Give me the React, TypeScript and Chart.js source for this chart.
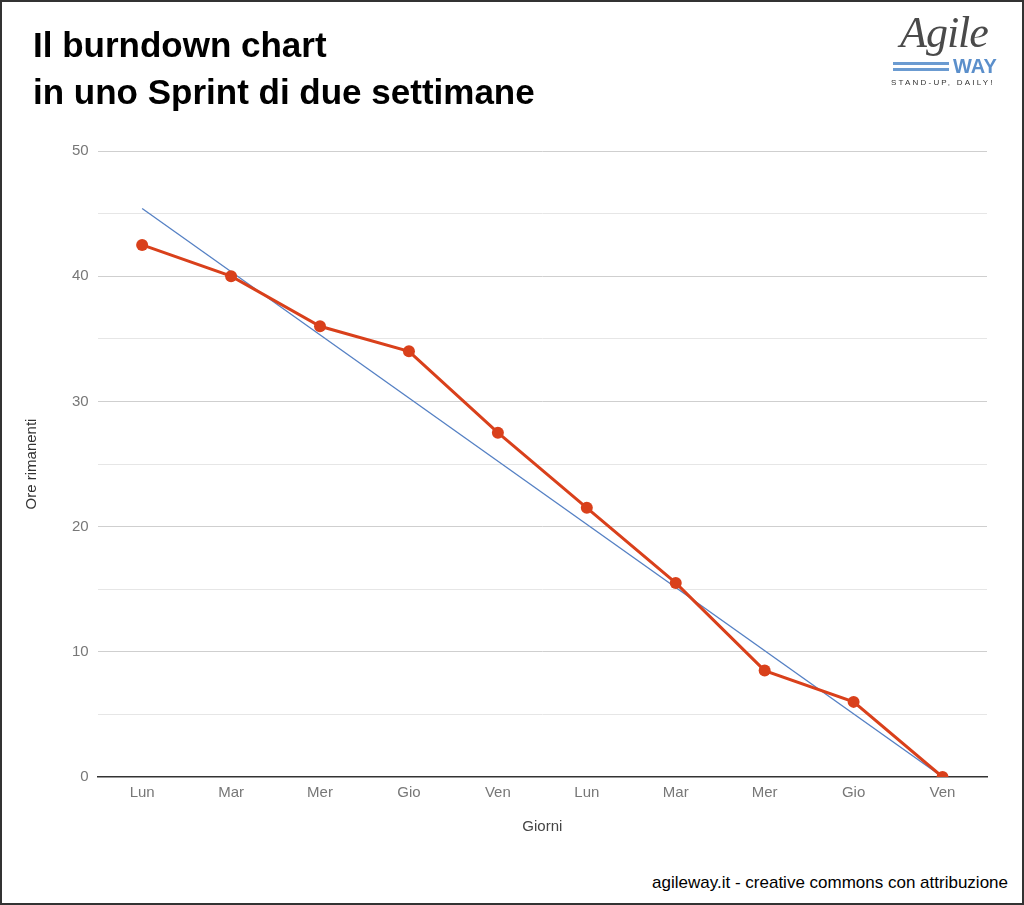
import React, { useEffect, useRef } from "react";
import { Chart, registerables } from "chart.js";

Chart.register(...registerables);

const days = ["Lun", "Mar", "Mer", "Gio", "Ven", "Lun", "Mar", "Mer", "Gio", "Ven"];
const remainingHours = [42.5, 40, 36, 34, 27.5, 21.5, 15.5, 8.5, 6, 0];
const idealHours: (number | null)[] = [45.4, null, null, null, null, null, null, null, null, 0];
const yMin = 0;
const yMax = 50;
const yStep = 5;

const FONT = "'Liberation Sans', Arial, sans-serif";

export default function App() {
  const canvasRef = useRef<HTMLCanvasElement | null>(null);

  useEffect(() => {
    document.body.style.margin = "0";
    const ctx = canvasRef.current;
    if (!ctx) return;
    const chart = new Chart(ctx, {
      type: "line",
      data: {
        labels: days,
        datasets: [
          {
            label: "Ideale",
            data: idealHours,
            borderColor: "#5580c4",
            borderWidth: 1.3,
            pointRadius: 0,
            spanGaps: true,
            tension: 0,
            order: 2,
          },
          {
            label: "Ore rimanenti",
            data: remainingHours,
            borderColor: "#d9401b",
            backgroundColor: "#d9401b",
            borderWidth: 3,
            pointRadius: 6,
            pointBorderWidth: 0,
            tension: 0,
            order: 1,
            clip: { left: 10, top: 10, right: 10, bottom: 0 },
          },
        ],
      },
      options: {
        animation: false,
        responsive: true,
        maintainAspectRatio: false,
        events: [],
        layout: { padding: { top: 151, right: 37, bottom: 4, left: 23 } },
        plugins: {
          legend: { display: false },
          tooltip: { enabled: false },
        },
        scales: {
          x: {
            offset: true,
            grid: { display: false, drawTicks: false },
            border: { display: true, color: "#333333", width: 1.5 },
            ticks: {
              color: "#777777",
              padding: 7,
              font: { family: FONT, size: 15 },
              autoSkip: false,
              maxRotation: 0,
            },
            title: {
              display: true,
              text: "Giorni",
              color: "#444444",
              font: { family: FONT, size: 15 },
              padding: { top: 9, bottom: 10 },
            },
          },
          y: {
            min: yMin,
            max: yMax,
            border: { display: false },
            grid: {
              drawTicks: false,
              color: (c: any) => {
                const v = c.tick ? c.tick.value : 0;
                if (v === 0) return "rgba(0,0,0,0)";
                return v % 10 === 0 ? "#cfcfcf" : "#e6e6e6";
              },
              lineWidth: 1,
            },
            ticks: {
              stepSize: yStep,
              color: "#777777",
              padding: 9,
              font: { family: FONT, size: 15 },
              callback: (v: any) => (Number(v) % 10 === 0 ? String(v) : ""),
            },
            title: {
              display: true,
              text: "Ore rimanenti",
              color: "#333333",
              font: { family: FONT, size: 15 },
              padding: { top: 0, bottom: 22 },
            },
          },
        },
      },
    });
    return () => chart.destroy();
  }, []);

  return (
    <div style={{ position: "fixed", left: 0, top: 0, width: 1024, height: 905, background: "#ffffff", overflow: "hidden" }}>
      <div style={{ position: "absolute", left: 0, top: 0, width: 1024, height: 850 }}>
        <canvas ref={canvasRef} />
      </div>
      <div
        style={{
          position: "absolute",
          left: 33,
          top: 21,
          fontFamily: FONT,
          fontWeight: "bold",
          fontSize: 35,
          lineHeight: "47px",
          color: "#000000",
          whiteSpace: "nowrap",
        }}
      >
        <div>Il burndown chart</div>
        <div>in uno Sprint di due settimane</div>
      </div>
      {/* Logo */}
      <div style={{ position: "absolute", left: 886, top: 6, width: 124, height: 86 }}>
        <div
          style={{
            position: "absolute",
            left: 14,
            top: 2,
            fontFamily: "'Liberation Serif', 'DejaVu Serif', serif",
            fontStyle: "italic",
            fontSize: 44,
            color: "#4a4a4a",
            lineHeight: "50px",
            letterSpacing: -1,
          }}
        >
          Agile
        </div>
        <div style={{ position: "absolute", left: 7, top: 56, width: 56, height: 3, background: "#6b9bd1" }} />
        <div style={{ position: "absolute", left: 7, top: 62, width: 56, height: 3, background: "#6b9bd1" }} />
        <div
          style={{
            position: "absolute",
            left: 67,
            top: 50,
            fontFamily: FONT,
            fontWeight: "bold",
            fontSize: 20,
            color: "#5b8fcb",
            lineHeight: "20px",
          }}
        >
          WAY
        </div>
        <div
          style={{
            position: "absolute",
            left: 5,
            top: 72,
            fontFamily: FONT,
            fontSize: 8,
            letterSpacing: 2.2,
            color: "#333333",
            whiteSpace: "nowrap",
            lineHeight: "10px",
          }}
        >
          STAND-UP, DAILY!
        </div>
      </div>
      <div
        style={{
          position: "absolute",
          right: 16,
          top: 872,
          fontFamily: FONT,
          fontSize: 17,
          color: "#000000",
          whiteSpace: "nowrap",
          lineHeight: "22px",
        }}
      >
        agileway.it - creative commons con attribuzione
      </div>
      <div
        style={{
          position: "absolute",
          left: 0,
          top: 0,
          width: 1024,
          height: 905,
          boxSizing: "border-box",
          border: "2px solid #333333",
          pointerEvents: "none",
        }}
      />
    </div>
  );
}
